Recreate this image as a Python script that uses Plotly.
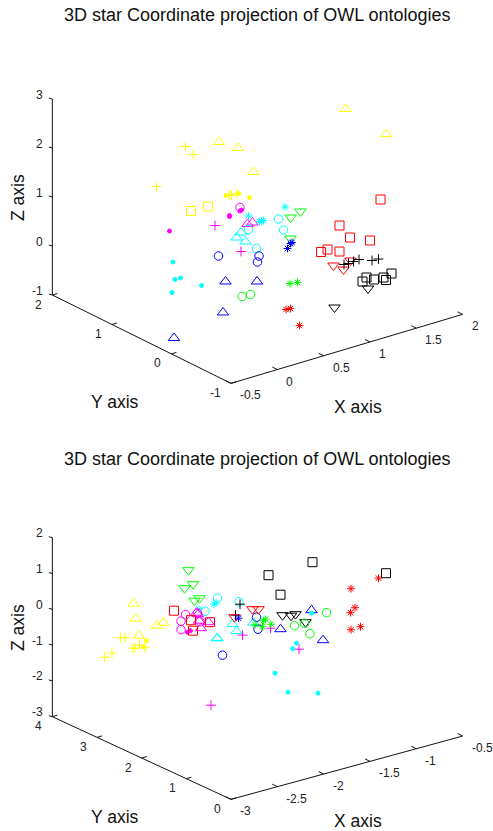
import plotly.graph_objects as go

TITLE = "3D star Coordinate projection of OWL ontologies"
FONT = "Liberation Sans"

# ---- tick labels ----
t_x_ticks = [-0.5, 0, 0.5, 1, 1.5, 2]
t_y_ticks = [-1, 0, 1, 2]
t_z_ticks = [-1, 0, 1, 2, 3]
b_x_ticks = [-3, -2.5, -2, -1.5, -1, -0.5]
b_y_ticks = [0, 1, 2, 3, 4]
b_z_ticks = [-3, -2, -1, 0, 1, 2]

# ---- top panel: points as read in the projection plane (h, v) ----
t_yellow_tri_h = [2.29, 3.10, -0.24, 0.14, 0.45]
t_yellow_tri_v = [3.72, 3.22, 3.06, 2.94, 2.46]
t_yellow_plus_h = [-0.91, -0.76, -1.49, -0.03, 0.01, 0.12]
t_yellow_plus_v = [2.97, 2.81, 2.17, 1.99, 2.00, 2.03]
t_yellow_dot_h = [-0.10, 0.15, 0.37]
t_yellow_dot_v = [1.99, 2.03, 1.95]
t_yellow_sq_h = [-0.80, -0.46]
t_yellow_sq_v = [1.68, 1.77]
t_mag_circ_h = [0.18]
t_mag_circ_v = [1.75]
t_mag_dot_h = [0.18, 0.21, -0.03, -0.03, -1.23]
t_mag_dot_v = [1.68, 1.70, 1.59, 1.57, 1.28]
t_mag_plus_h = [-0.32, 0.20]
t_mag_plus_v = [1.39, 0.87]
t_mag_tri_h = [0.33, 0.43]
t_mag_tri_v = [1.42, 1.45]
t_cyan_ast_h = [1.08, 0.35, 0.57, 0.61, 0.65]
t_cyan_ast_v = [1.76, 1.58, 1.47, 1.48, 1.49]
t_cyan_tri_h = [0.20, 0.11, 0.29]
t_cyan_tri_v = [1.25, 1.15, 1.07]
t_cyan_circ_h = [0.35, 0.95, 1.05, 0.51]
t_cyan_circ_v = [1.31, 1.52, 1.30, 0.93]
t_cyan_dot_h = [-1.16, -1.12, -1.01, -0.59, -1.18]
t_cyan_dot_v = [0.66, 0.31, 0.34, 0.19, 0.05]
t_green_dn_h = [1.39, 1.19, 1.19]
t_green_dn_v = [1.67, 1.55, 1.13]
t_blue_ast_h = [1.22, 1.19, 1.13]
t_blue_ast_v = [1.05, 1.03, 0.93]
t_blue_circ_h = [-0.25, 0.56, 0.53]
t_blue_circ_v = [0.78, 0.78, 0.66]
t_blue_tri_h = [-0.11, 0.52, -0.16, -1.14]
t_blue_tri_v = [0.27, 0.27, -0.35, -0.86]
t_green_ast_h = [1.18, 1.33]
t_green_ast_v = [0.23, 0.25]
t_green_circ_h = [0.22, 0.39]
t_green_circ_v = [-0.03, 0.01]
t_red_ast_h = [1.10, 1.19, 1.37]
t_red_ast_v = [-0.29, -0.27, -0.61]
t_red_sq_h = [2.99, 2.17, 2.38, 2.78, 1.93, 1.80, 2.17]
t_red_sq_v = [1.91, 1.39, 1.15, 1.09, 0.91, 0.86, 0.87]
t_red_dn_h = [2.05, 2.25, 2.39]
t_red_dn_v = [0.59, 0.51, 0.69]
t_black_plus_h = [2.26, 2.35, 2.45, 2.56, 2.82, 2.95]
t_black_plus_v = [0.61, 0.63, 0.67, 0.71, 0.69, 0.72]
t_black_dn_h = [2.74, 2.07]
t_black_dn_v = [0.13, -0.25]
t_black_sq_h = [3.21, 3.05, 3.10, 2.86, 2.71, 2.63]
t_black_sq_v = [0.43, 0.35, 0.30, 0.31, 0.35, 0.27]

# ---- bottom panel ----
b_yellow_tri_h = [-1.95, -1.91, -1.84, -1.48, -1.35]
b_yellow_tri_v = [2.26, 1.96, 1.62, 1.82, 1.88]
b_yellow_plus_h = [-2.21, -2.12, -2.53, -2.38, -1.96, -1.83, -1.72, -1.92]
b_yellow_plus_v = [1.58, 1.58, 1.19, 1.27, 1.37, 1.43, 1.38, 1.37]
b_yellow_dot_h = [-1.69, -1.75]
b_yellow_dot_v = [1.52, 1.40]
b_green_dn_h = [-0.85, -0.93, -0.76, -0.73, -0.63]
b_green_dn_v = [2.93, 2.57, 2.65, 2.32, 2.37]
b_cyan_circ_h = [-0.27, -0.52, 0.16]
b_cyan_circ_v = [2.37, 2.11, 2.30]
b_cyan_ast_h = [-0.34, -0.30, -0.64]
b_cyan_ast_v = [2.25, 2.28, 2.15]
b_mag_circ_h = [-0.91, -1.00, -1.00, -0.67, -0.62]
b_mag_circ_v = [2.04, 1.91, 1.74, 2.07, 1.90]
b_mag_tri_h = [-0.66, -0.60, -0.45, -0.64, -0.69]
b_mag_tri_v = [2.05, 1.77, 1.89, 1.92, 2.08]
b_mag_dot_h = [-0.87, -0.81]
b_mag_dot_v = [1.69, 1.72]
b_red_sq_h = [-1.14, -0.80, -0.42, -0.76]
b_red_sq_v = [2.12, 1.93, 1.89, 1.72]
b_cyan_tri_h = [-0.28, -0.27, 0.03, 0.11, 0.45]
b_cyan_tri_v = [1.57, 1.57, 1.85, 1.71, 1.88]
b_blue_circ_h = [-0.17, 0.51, 0.54]
b_blue_circ_v = [1.23, 1.99, 1.75]
b_black_plus_h = [0.18, 0.09]
b_black_plus_v = [2.25, 2.03]
b_red_dn_h = [0.07, 0.43, 0.55]
b_red_dn_v = [1.99, 2.15, 2.15]
b_blue_ast_h = [0.15]
b_blue_ast_v = [1.97]
b_mag_plus_h = [0.23, 0.79, 1.36, -0.40]
b_mag_plus_v = [1.63, 1.77, 1.35, 0.23]
b_green_ast_h = [0.48, 0.63, 0.69, 0.65, 0.80]
b_green_ast_v = [1.84, 1.80, 1.95, 1.92, 1.85]
b_black_sq_h = [0.75, 1.63, 0.99, 3.10]
b_black_sq_v = [2.83, 3.09, 2.44, 2.87]
b_black_dn_h = [1.03, 1.20, 1.29, 1.49]
b_black_dn_v = [2.03, 2.02, 2.05, 1.89]
b_blue_tri_h = [1.61, 0.99, 1.84]
b_blue_tri_v = [2.13, 1.75, 1.53]
b_green_circ_h = [1.91, 1.27, 1.47, 1.58]
b_green_circ_v = [2.08, 1.82, 1.87, 1.66]
b_red_ast_h = [2.95, 2.40, 2.48, 2.39, 2.40, 2.59]
b_red_ast_v = [2.77, 2.56, 2.18, 2.08, 1.74, 1.80]
b_cyan_dot_h = [1.31, 1.23, 0.88, 1.14, 1.74, 1.61]
b_cyan_dot_v = [1.47, 1.36, 0.87, 0.49, 0.47, 2.07]

YEL, MAG, CYA, RED, GRN, BLU, BLK = "#ffff00", "#ff00ff", "#00ffff", "#ff0000", "#00ff00", "#0000ff", "#000000"
STYLE = {
    "tri": ("triangle-up-open", 10), "dn": ("triangle-down-open", 10), "sq": ("square-open", 9),
    "circ": ("circle-open", 8.5), "plus": ("cross-thin", 7), "ast": ("asterisk", 6.5), "dot": ("circle", 4),
}
top_series = [
    (t_yellow_tri_h, t_yellow_tri_v, YEL, "tri"), (t_yellow_plus_h, t_yellow_plus_v, YEL, "plus"),
    (t_yellow_dot_h, t_yellow_dot_v, YEL, "dot"), (t_yellow_sq_h, t_yellow_sq_v, YEL, "sq"),
    (t_mag_circ_h, t_mag_circ_v, MAG, "circ"), (t_mag_dot_h, t_mag_dot_v, MAG, "dot"),
    (t_mag_plus_h, t_mag_plus_v, MAG, "plus"), (t_mag_tri_h, t_mag_tri_v, MAG, "tri"),
    (t_cyan_ast_h, t_cyan_ast_v, CYA, "ast"), (t_cyan_tri_h, t_cyan_tri_v, CYA, "tri"),
    (t_cyan_circ_h, t_cyan_circ_v, CYA, "circ"), (t_cyan_dot_h, t_cyan_dot_v, CYA, "dot"),
    (t_green_dn_h, t_green_dn_v, GRN, "dn"), (t_blue_ast_h, t_blue_ast_v, BLU, "ast"),
    (t_blue_circ_h, t_blue_circ_v, BLU, "circ"), (t_blue_tri_h, t_blue_tri_v, BLU, "tri"),
    (t_green_ast_h, t_green_ast_v, GRN, "ast"), (t_green_circ_h, t_green_circ_v, GRN, "circ"),
    (t_red_ast_h, t_red_ast_v, RED, "ast"), (t_red_sq_h, t_red_sq_v, RED, "sq"),
    (t_red_dn_h, t_red_dn_v, RED, "dn"), (t_black_plus_h, t_black_plus_v, BLK, "plus"),
    (t_black_dn_h, t_black_dn_v, BLK, "dn"), (t_black_sq_h, t_black_sq_v, BLK, "sq"),
]
bottom_series = [
    (b_yellow_tri_h, b_yellow_tri_v, YEL, "tri"), (b_yellow_plus_h, b_yellow_plus_v, YEL, "plus"),
    (b_yellow_dot_h, b_yellow_dot_v, YEL, "dot"), (b_green_dn_h, b_green_dn_v, GRN, "dn"),
    (b_cyan_circ_h, b_cyan_circ_v, CYA, "circ"), (b_cyan_ast_h, b_cyan_ast_v, CYA, "ast"),
    (b_mag_circ_h, b_mag_circ_v, MAG, "circ"), (b_mag_tri_h, b_mag_tri_v, MAG, "tri"),
    (b_mag_dot_h, b_mag_dot_v, MAG, "dot"), (b_red_sq_h, b_red_sq_v, RED, "sq"),
    (b_cyan_tri_h, b_cyan_tri_v, CYA, "tri"), (b_blue_circ_h, b_blue_circ_v, BLU, "circ"),
    (b_black_plus_h, b_black_plus_v, BLK, "plus"), (b_red_dn_h, b_red_dn_v, RED, "dn"),
    (b_blue_ast_h, b_blue_ast_v, BLU, "ast"), (b_mag_plus_h, b_mag_plus_v, MAG, "plus"),
    (b_green_ast_h, b_green_ast_v, GRN, "ast"), (b_black_sq_h, b_black_sq_v, BLK, "sq"),
    (b_black_dn_h, b_black_dn_v, BLK, "dn"), (b_blue_tri_h, b_blue_tri_v, BLU, "tri"),
    (b_green_circ_h, b_green_circ_v, GRN, "circ"), (b_red_ast_h, b_red_ast_v, RED, "ast"),
    (b_cyan_dot_h, b_cyan_dot_v, CYA, "dot"),
]

W, H = 493, 831
SPLIT = 415
UNIT = 50  # pixels per projection-plane unit
fig = go.Figure()
annotations = []


def fmt(v):
    return f"{v:g}"


def panel(series, xt, yt, zt, xa, ya, corner_v, x_end_v, z_unit, title_py, z_py, yl_py, xl_py):
    """Draw one panel. The floor corner is at h=0; the Y end sits at (-3.573, 0)."""
    def project(x, y, z):
        fx = (x - xt[0]) / (xt[-1] - xt[0])
        fy = (y - yt[0]) / (yt[-1] - yt[0])
        return (fx * 4.633 - fy * 3.573,
                corner_v + fx * (x_end_v - corner_v) + fy * (0 - corner_v) + (z - zt[0]) * z_unit)

    lx, ly = [], []
    def seg(a, b):
        lx.extend([a[0], b[0], None]); ly.extend([a[1], b[1], None])
    o = project(xt[0], yt[0], zt[0])
    seg(project(xt[-1], yt[0], zt[0]), o)
    seg(project(xt[0], yt[-1], zt[0]), o)
    seg(project(xt[0], yt[-1], zt[0]), project(xt[0], yt[-1], zt[-1]))

    def label(text, p, xs, ys, anchor):
        annotations.append(dict(x=p[0], y=p[1], xref=xa, yref=ya, text=text, showarrow=False,
                                xanchor=anchor, yanchor="middle", xshift=xs, yshift=-ys, borderpad=0,
                                font=dict(family=FONT, size=12, color="#222222")))
    for x in xt:
        p = project(x, yt[0], zt[0])
        seg(p, (p[0] - 0.10, p[1] + 0.05))
        label(fmt(x), p, 8, 12, "left")
    for y in yt:
        p = project(xt[0], y, zt[0])
        seg(p, (p[0] + 0.10, p[1] + 0.03))
        label(fmt(y), p, -9, 9.5, "right")
    for z in zt:
        p = project(xt[0], yt[-1], z)
        seg(p, (p[0] - 0.07, p[1] + 0.02))
        label(fmt(z), p, -8, -4.5, "right")
    fig.add_trace(go.Scatter(x=lx, y=ly, mode="lines", line=dict(color="#111111", width=1),
                             xaxis=xa, yaxis=ya, showlegend=False, hoverinfo="skip"))
    for h, v, color, kind in series:
        sym, size = STYLE[kind]
        fig.add_trace(go.Scatter(x=h, y=v, mode="markers", xaxis=xa, yaxis=ya, showlegend=False,
                                 marker=dict(symbol=sym, size=size, color=color,
                                             line=dict(color=color, width=1))))

    def plabel(text, px, py, size, angle=0):
        annotations.append(dict(x=px / W, y=1 - py / H, xref="paper", yref="paper", text=text,
                                showarrow=False, textangle=angle, xanchor="center", yanchor="middle",
                                font=dict(family=FONT, size=size, color="#111111")))
    plabel(TITLE, 257, title_py, 18)
    plabel("Z axis", 18, z_py, 17.5, -90)
    plabel("Y axis", 115, yl_py, 17.5)
    plabel("X axis", 358, xl_py, 17.5)


panel(top_series, t_x_ticks, t_y_ticks, t_z_ticks, "x", "y", -1.767, -0.387, 0.98, 15, 198, 402, 407)
panel(bottom_series, b_x_ticks, b_y_ticks, b_z_ticks, "x2", "y2", -1.653, -0.387, 0.716, 459, 628, 817, 821)

x_range = [-231 / UNIT, (W - 231) / UNIT]
hidden = dict(visible=False, fixedrange=True)
fig.update_layout(
    width=W, height=H, autosize=False, margin=dict(l=0, r=0, t=0, b=0),
    paper_bgcolor="white", plot_bgcolor="white", annotations=annotations,
    xaxis=dict(domain=[0, 1], range=x_range, **hidden),
    yaxis=dict(domain=[1 - SPLIT / H, 1], range=[(295 - SPLIT) / UNIT, 295 / UNIT], **hidden),
    xaxis2=dict(domain=[0, 1], range=x_range, **hidden),
    yaxis2=dict(domain=[0, 1 - SPLIT / H], range=[(716.7 - H) / UNIT, (716.7 - SPLIT) / UNIT], **hidden),
)
fig.write_html("out.html", post_script="document.body.style.margin='0';",
               config=dict(displayModeBar=False))
